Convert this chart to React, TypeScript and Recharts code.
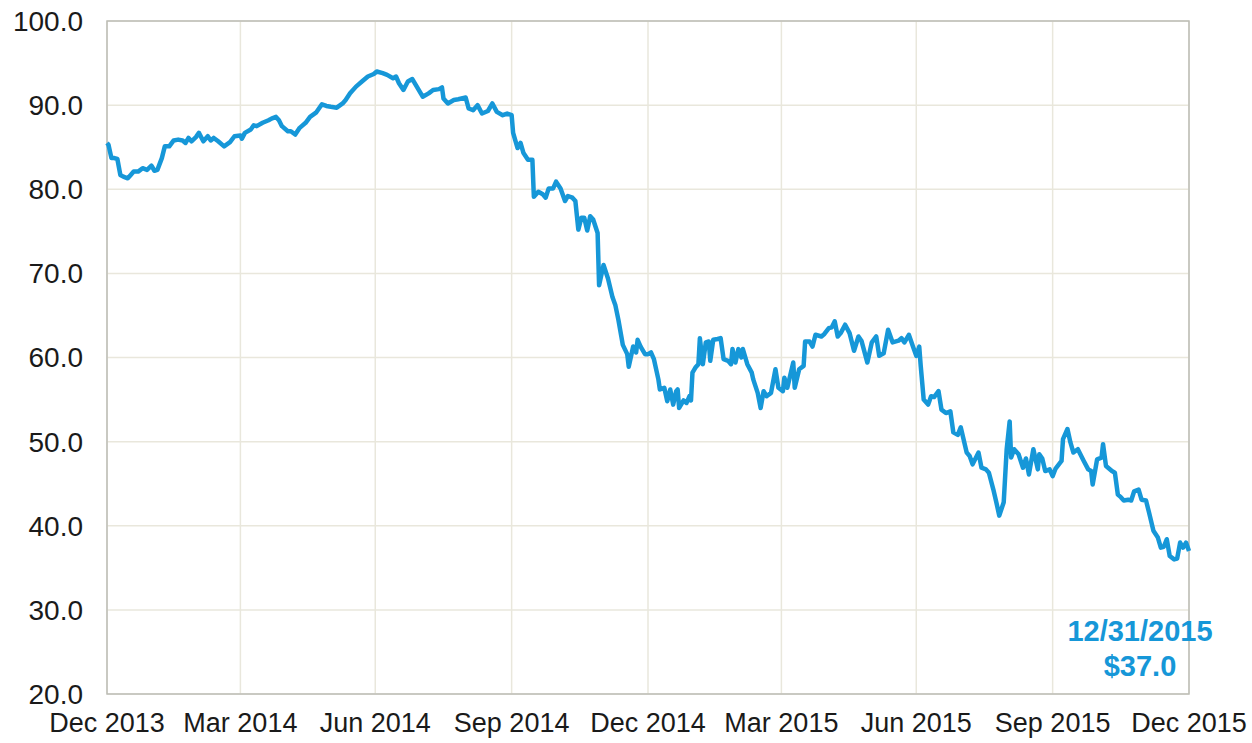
import { LineChart, Line, XAxis, YAxis, CartesianGrid, ReferenceArea } from 'recharts'

// closing price samples
const dates = [
  '2013-12-31',
  '2014-01-01', '2014-01-03', '2014-01-05', '2014-01-07', '2014-01-09', '2014-01-11', '2014-01-14', '2014-01-16', '2014-01-18', '2014-01-21', '2014-01-24', '2014-01-27', '2014-01-30',
  '2014-02-01', '2014-02-03', '2014-02-06', '2014-02-08', '2014-02-11', '2014-02-14', '2014-02-17', '2014-02-20', '2014-02-22', '2014-02-24', '2014-02-26',
  '2014-03-01', '2014-03-03', '2014-03-06', '2014-03-09', '2014-03-11', '2014-03-13', '2014-03-16', '2014-03-20', '2014-03-24', '2014-03-27', '2014-03-31',
  '2014-04-01', '2014-04-03', '2014-04-07', '2014-04-09', '2014-04-11', '2014-04-15', '2014-04-19', '2014-04-21', '2014-04-24', '2014-04-26', '2014-04-28',
  '2014-05-02', '2014-05-04', '2014-05-07', '2014-05-10', '2014-05-14', '2014-05-17', '2014-05-21', '2014-05-25', '2014-05-28', '2014-05-31',
  '2014-06-04', '2014-06-08', '2014-06-10', '2014-06-13', '2014-06-17', '2014-06-21', '2014-06-25', '2014-06-29',
  '2014-07-01', '2014-07-05', '2014-07-08', '2014-07-12', '2014-07-14', '2014-07-16', '2014-07-19', '2014-07-22', '2014-07-25', '2014-07-28',
  '2014-08-01', '2014-08-05', '2014-08-08', '2014-08-12', '2014-08-14', '2014-08-15', '2014-08-18', '2014-08-22', '2014-08-25', '2014-08-30',
  '2014-09-01', '2014-09-04', '2014-09-07', '2014-09-10', '2014-09-14', '2014-09-17', '2014-09-20', '2014-09-24', '2014-09-27', '2014-09-30',
  '2014-10-01', '2014-10-04', '2014-10-06', '2014-10-08', '2014-10-11', '2014-10-14', '2014-10-15', '2014-10-18', '2014-10-21', '2014-10-23', '2014-10-25', '2014-10-28', '2014-10-30',
  '2014-11-02', '2014-11-05', '2014-11-07', '2014-11-10', '2014-11-12', '2014-11-14', '2014-11-16', '2014-11-18', '2014-11-20', '2014-11-22', '2014-11-24', '2014-11-27', '2014-11-28',
  '2014-12-01', '2014-12-04', '2014-12-07', '2014-12-09', '2014-12-11', '2014-12-13', '2014-12-14', '2014-12-17', '2014-12-18', '2014-12-21', '2014-12-23', '2014-12-24', '2014-12-26', '2014-12-29', '2014-12-31',
  '2015-01-02', '2015-01-04', '2015-01-07', '2015-01-08', '2015-01-11', '2015-01-13', '2015-01-15', '2015-01-17', '2015-01-19', '2015-01-20', '2015-01-21', '2015-01-24', '2015-01-26', '2015-01-28', '2015-01-29', '2015-01-30',
  '2015-02-01', '2015-02-03', '2015-02-04', '2015-02-06', '2015-02-08', '2015-02-10', '2015-02-11', '2015-02-13', '2015-02-16', '2015-02-18', '2015-02-20', '2015-02-23', '2015-02-25', '2015-02-26', '2015-02-28',
  '2015-03-02', '2015-03-04', '2015-03-05', '2015-03-08', '2015-03-11', '2015-03-12', '2015-03-15', '2015-03-17', '2015-03-19', '2015-03-21', '2015-03-24', '2015-03-27', '2015-03-29',
  '2015-04-01', '2015-04-02', '2015-04-04', '2015-04-08', '2015-04-09', '2015-04-12', '2015-04-15', '2015-04-16', '2015-04-19', '2015-04-21', '2015-04-23', '2015-04-27', '2015-04-29',
  '2015-05-02', '2015-05-04', '2015-05-06', '2015-05-08', '2015-05-10', '2015-05-13', '2015-05-16', '2015-05-19', '2015-05-22', '2015-05-24', '2015-05-28', '2015-05-31',
  '2015-06-03', '2015-06-05', '2015-06-08', '2015-06-11', '2015-06-14', '2015-06-18', '2015-06-20', '2015-06-22', '2015-06-25', '2015-06-28', '2015-06-30',
  '2015-07-02', '2015-07-03', '2015-07-05', '2015-07-08', '2015-07-10', '2015-07-12', '2015-07-15', '2015-07-17', '2015-07-20', '2015-07-23', '2015-07-25', '2015-07-28', '2015-07-30',
  '2015-08-03', '2015-08-05', '2015-08-07', '2015-08-11', '2015-08-13', '2015-08-16', '2015-08-18', '2015-08-21', '2015-08-23', '2015-08-25', '2015-08-28', '2015-08-30',
  '2015-09-01', '2015-09-02', '2015-09-04', '2015-09-07', '2015-09-10', '2015-09-12', '2015-09-14', '2015-09-17', '2015-09-20', '2015-09-21', '2015-09-23', '2015-09-25', '2015-09-28', '2015-09-30',
  '2015-10-02', '2015-10-06', '2015-10-07', '2015-10-10', '2015-10-12', '2015-10-14', '2015-10-17', '2015-10-21', '2015-10-24', '2015-10-26', '2015-10-27', '2015-10-30',
  '2015-11-02', '2015-11-03', '2015-11-05', '2015-11-09', '2015-11-11', '2015-11-13', '2015-11-15', '2015-11-17', '2015-11-20', '2015-11-22', '2015-11-24', '2015-11-27', '2015-11-29',
  '2015-12-02', '2015-12-04', '2015-12-07', '2015-12-10', '2015-12-12', '2015-12-14', '2015-12-16', '2015-12-18', '2015-12-21', '2015-12-23', '2015-12-25', '2015-12-27', '2015-12-29', '2015-12-31',
]

const prices = [
  85.5,
  85.3, 83.7, 83.7, 83.6, 81.7, 81.5, 81.3, 81.7, 82.1, 82.1, 82.5, 82.3, 82.8,
  82.2, 82.3, 83.7, 85.1, 85.1, 85.8, 85.9, 85.8, 85.5, 86.1, 85.7,
  86.2, 86.7, 85.7, 86.3, 85.8, 86.1, 85.7, 85.1, 85.6, 86.3, 86.4,
  86.0, 86.7, 87.1, 87.6, 87.5, 87.9, 88.2, 88.4, 88.6, 88.2, 87.5,
  86.9, 86.9, 86.5, 87.3, 87.9, 88.6, 89.1, 90.1, 89.9, 89.8,
  89.7, 90.2, 90.6, 91.4, 92.2, 92.8, 93.4, 93.7,
  94.0, 93.8, 93.6, 93.2, 93.4, 92.6, 91.8, 92.8, 93.1, 92.2,
  91.0, 91.4, 91.8, 91.9, 92.1, 90.8, 90.2, 90.6, 90.7, 90.9,
  89.6, 89.4, 90.0, 89.0, 89.3, 90.2, 89.2, 88.8, 89.0, 88.8,
  86.7, 84.9, 85.5, 84.3, 83.5, 83.5, 79.1, 79.7, 79.4, 79.0, 80.1, 80.1, 80.9,
  80.1, 78.6, 79.2, 79.0, 78.6, 75.2, 76.6, 76.6, 75.1, 76.8, 76.4, 74.8, 68.6,
  71.0, 69.4, 67.2, 66.2, 64.5, 62.5, 61.5, 60.4, 58.9, 61.3, 60.6, 62.1, 61.3, 60.4, 60.4,
  60.6, 59.8, 57.4, 56.2, 56.4, 54.8, 56.2, 54.4, 56.0, 56.2, 54.0, 54.9, 54.6, 55.4, 54.9, 58.2,
  58.8, 59.2, 62.3, 59.2, 61.8, 61.9, 59.6, 62.1, 62.2, 62.3, 59.8, 59.6, 59.2, 61.0, 59.4,
  61.0, 60.0, 61.0, 59.2, 58.2, 57.4, 55.8, 54.0, 56.0, 55.4, 55.8, 58.6, 56.4,
  56.0, 57.6, 56.4, 59.4, 56.4, 58.6, 59.0, 61.9, 61.9, 61.3, 62.7, 62.5, 62.8,
  63.5, 63.6, 64.3, 62.5, 62.9, 63.9, 62.9, 60.8, 62.5, 62.0, 59.4, 61.8,
  62.5, 60.2, 60.5, 63.3, 61.8, 62.0, 62.3, 61.8, 62.7, 61.2, 60.2,
  61.3, 59.0, 55.0, 54.4, 55.4, 55.3, 56.0, 53.8, 53.4, 53.6, 51.1, 50.8, 51.7,
  48.7, 48.3, 47.3, 48.7, 46.9, 46.7, 46.3, 44.3, 42.8, 41.2, 42.8, 49.1,
  52.4, 48.1, 49.1, 48.5, 46.9, 48.0, 46.1, 49.1, 46.7, 48.5, 48.0, 46.5, 46.7, 45.9,
  46.8, 47.7, 50.3, 51.5, 49.9, 48.7, 49.1, 47.7, 46.7, 46.5, 44.9, 47.9,
  48.1, 49.7, 47.1, 46.5, 46.3, 43.7, 43.4, 43.0, 43.1, 43.0, 44.1, 44.3, 43.1,
  43.0, 41.6, 39.4, 38.6, 37.4, 37.5, 38.4, 36.4, 36.0, 36.1, 38.0, 37.4, 38.0, 37.0,
]

const tickDates = ['2013-12-31', '2014-03-31', '2014-06-30', '2014-09-30', '2014-12-31', '2015-03-31', '2015-06-30', '2015-09-30', '2015-12-31']
const tickLabels = ['Dec 2013', 'Mar 2014', 'Jun 2014', 'Sep 2014', 'Dec 2014', 'Mar 2015', 'Jun 2015', 'Sep 2015', 'Dec 2015']
const yTicks = [20, 30, 40, 50, 60, 70, 80, 90, 100]

const BLUE = '#1697d8'

export default function App() {
  const data = dates.map((d, i) => ({ t: Date.parse(d), price: prices[i] }))
  const xTicks = tickDates.map((d) => Date.parse(d))
  const xMin = xTicks[0]
  const xMax = xTicks[xTicks.length - 1]

  return (
    <div style={{ position: 'relative', width: 1252, height: 743, fontFamily: '"Liberation Sans", Arial, sans-serif', background: '#fff' }}>
      <style>{'body { margin: 0; }'}</style>
      <LineChart width={1252} height={743} data={data} margin={{ top: 21, right: 63, left: 7, bottom: 19 }}>
        <CartesianGrid stroke="#e9e7dc" strokeWidth={1.5} />
        <XAxis
          dataKey="t"
          type="number"
          domain={[xMin, xMax]}
          ticks={xTicks}
          interval={0}
          tickFormatter={(v: number) => tickLabels[xTicks.indexOf(v)]}
          axisLine={false}
          tickLine={false}
          tickSize={0}
          tickMargin={19}
          height={30}
          tick={{ fill: '#1a1a1a', fontSize: 27 }}
        />
        <YAxis
          domain={[20, 100]}
          ticks={yTicks}
          interval={0}
          tickFormatter={(v: number) => v.toFixed(1)}
          axisLine={false}
          tickLine={false}
          tickSize={0}
          tickMargin={24}
          width={100}
          tick={{ fill: '#1a1a1a', fontSize: 28 }}
        />
        <ReferenceArea x1={xMin} x2={xMax} y1={20} y2={100} fill="none" stroke="#bdbdb6" strokeWidth={1.5} ifOverflow="visible" />
        <Line type="linear" dataKey="price" stroke={BLUE} strokeWidth={4.5} strokeLinejoin="round" dot={false} isAnimationActive={false} />
      </LineChart>
      <div
        style={{
          position: 'absolute',
          left: 1040,
          top: 614,
          width: 200,
          textAlign: 'center',
          color: BLUE,
          fontWeight: 'bold',
          fontSize: 29,
          lineHeight: '35px',
        }}
      >
        12/31/2015
        <br />
        $37.0
      </div>
    </div>
  )
}
